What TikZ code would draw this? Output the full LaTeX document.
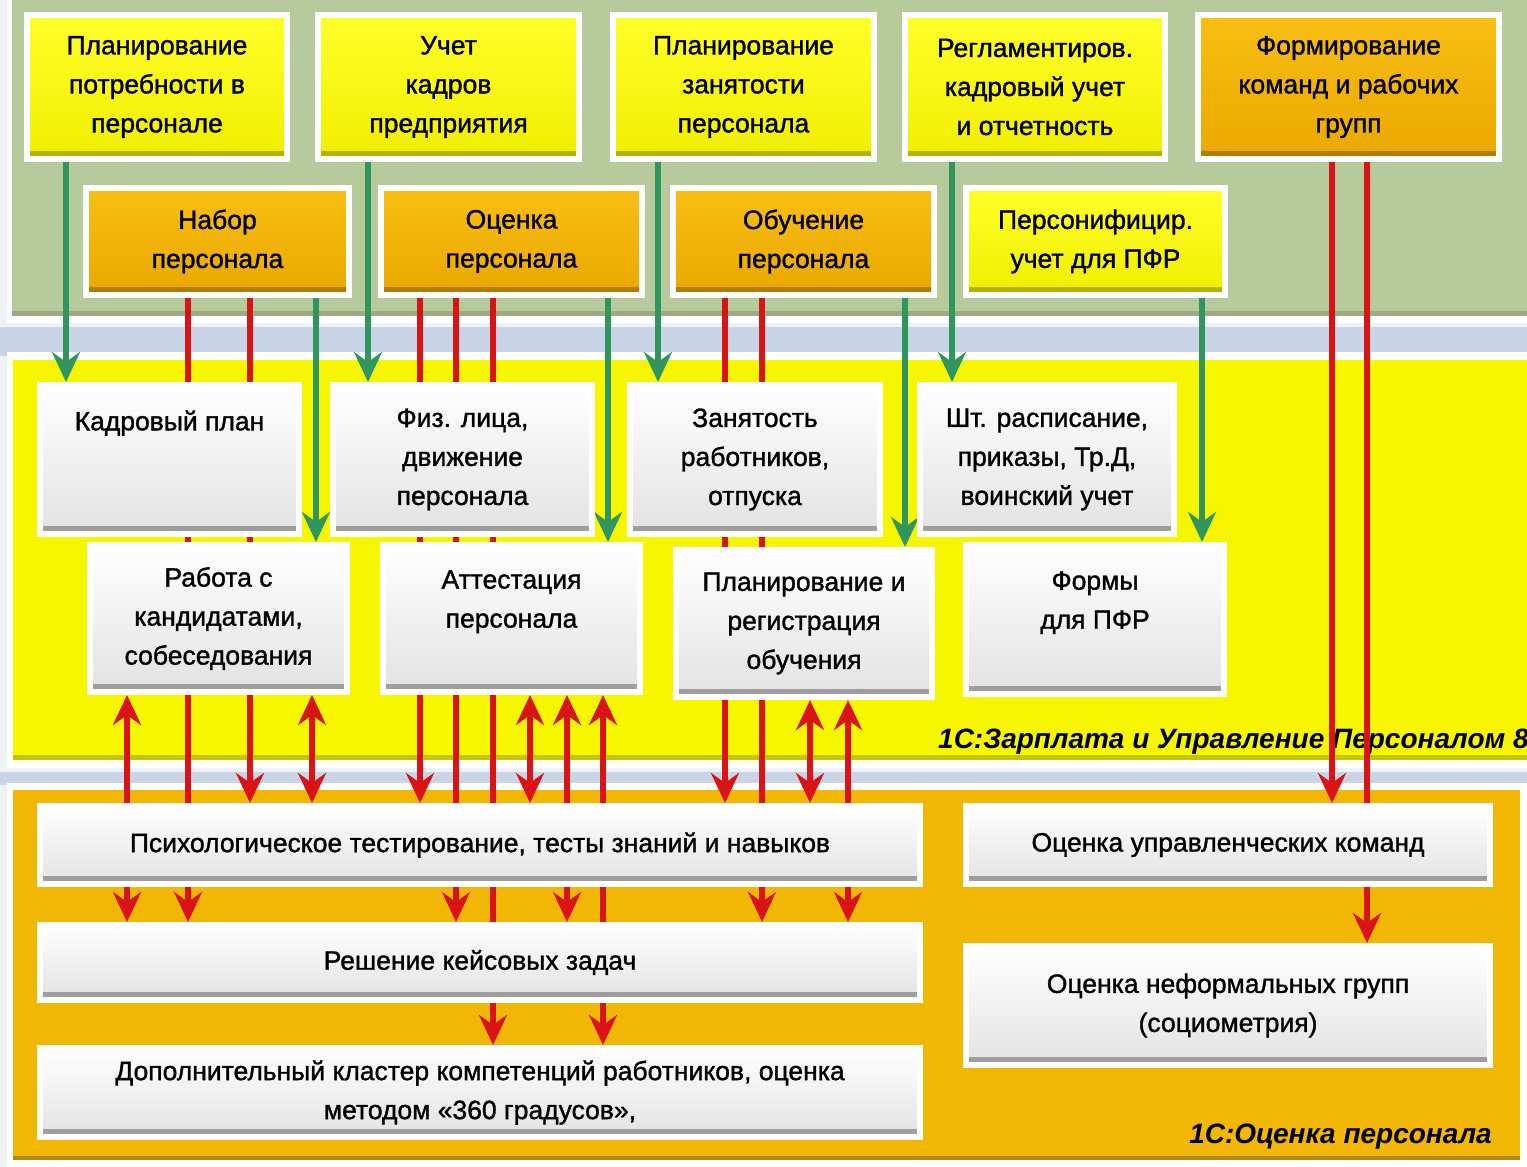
\documentclass[tikz,border=0pt]{standalone}
\usepackage{fontspec}
\setmainfont{Liberation Sans}
\newfontfamily\boxfont{Liberation Sans}[FakeBold=1.3]
\usetikzlibrary{arrows.meta,shadows}
\definecolor{bgc}{HTML}{EEF2F7}
\definecolor{bandc}{HTML}{C9D4E6}
\definecolor{greenp}{HTML}{B6CA9C}
\definecolor{yellowp}{HTML}{F6F600}
\definecolor{orangep}{HTML}{F2B705}
\definecolor{yboxt}{HTML}{FFFF2A}
\definecolor{yboxb}{HTML}{F0EE00}
\definecolor{oboxt}{HTML}{F8BE14}
\definecolor{oboxb}{HTML}{EAA800}
\definecolor{wboxb}{HTML}{E2E2E2}
\definecolor{garrow}{HTML}{30965E}
\definecolor{rarrow}{HTML}{DA1414}
\pgfdeclarelayer{bg}
\pgfdeclarelayer{conn}
\pgfsetlayers{bg,conn,main}
\newcommand\mkbox[7]{\node[#1, minimum width={(#4-#2)*1pt}, minimum height={(#5-#3)*1pt}] (#6) at ({(#2+#4)/2},{(#3+#5)/2}) {#7};}
\newcommand\cn[4]{\coordinate (c#2) at (#2,0); \draw[#1] (#3.south -| c#2) -- (#4.north -| c#2);}
\tikzset{
  box/.style={draw=white, line width=6pt, inner sep=0pt, align=center, text=black,
    font=\boxfont\fontsize{26.5}{39}\selectfont,
    drop shadow={shadow xshift=3pt, shadow yshift=-3pt, opacity=0.35, fill=black!60}},
  stripe/.style={path picture={\fill[#1] ([yshift=3pt]path picture bounding box.south west) rectangle ([yshift=8pt]path picture bounding box.south east);}},
  ybox/.style={box, top color=yboxt, bottom color=yboxb, stripe=yboxb!75!black},
  obox/.style={box, top color=oboxt, bottom color=oboxb, stripe=oboxb!75!black},
  wbox/.style={box, top color=white, bottom color=wboxb, stripe=black!38},
  tipg/.tip={Stealth[length=30pt,width=28pt,inset=10pt]},
  garr/.style={draw=garrow, line width=6pt, -tipg},
  rarr/.style={draw=rarrow, line width=6pt, -tipg},
  rdbl/.style={draw=rarrow, line width=6pt, tipg-tipg},
  lbl/.style={font=\fontsize{28}{32}\selectfont\bfseries\itshape, text=black, inner sep=0pt},
}
\begin{document}
\begin{tikzpicture}[x=1pt,y=-1pt]
\useasboundingbox (0,0) rectangle (1527,1167);
\begin{pgfonlayer}{bg}
  \fill[bgc] (0,0) rectangle (1527,1167);
  \fill[bandc] (0,327) rectangle (1527,356);
  \fill[bandc] (0,772) rectangle (1527,785);
  % top panel
  \fill[white] (7,-20) rectangle (1540,323);
  \fill[greenp] (12,-20) rectangle (1540,316);
  \fill[greenp!85!black] (12,311) rectangle (1540,316);
  % middle panel
  \fill[white] (7,352) rectangle (1540,768);
  \fill[yellowp] (13,360) rectangle (1540,760);
  \fill[yellowp!80!black] (13,755) rectangle (1540,760);
  % bottom panel
  \fill[white] (7,783) rectangle (1527,1167);
  \fill[orangep] (13,790) rectangle (1520,1160);
  \fill[orangep!75!black] (13,1156) rectangle (1520,1160);
  \node[lbl, anchor=west] (lab1) at (938,742) {1С:Зарплата и Управление Персоналом 8};
  \node[lbl, anchor=east] (lab2) at (1492,1137) {1С:Оценка персонала};
\end{pgfonlayer}

% top row
\mkbox{ybox}{27}{15}{287}{159}{T1}{Планирование\\потребности в\\персонале}
\mkbox{ybox}{318}{15}{579}{159}{T2}{Учет\\кадров\\предприятия}
\mkbox{ybox}{613}{15}{874}{159}{T3}{Планирование\\занятости\\персонала}
\mkbox{ybox}{905}{15}{1165}{159}{T4}{Регламентиров.\\кадровый учет\\и отчетность}
\mkbox{obox}{1198}{15}{1499}{159}{T5}{Формирование\\команд и рабочих\\групп}
% second row
\mkbox{obox}{86}{188}{349}{295}{S1}{Набор\\персонала}
\mkbox{obox}{381}{188}{642}{295}{S2}{Оценка\\персонала}
\mkbox{obox}{673}{188}{934}{295}{S3}{Обучение\\персонала}
\mkbox{ybox}{966}{188}{1225}{295}{S4}{Персонифицир.\\учет для ПФР}
% middle panel rows
\mkbox{wbox}{40}{385}{299}{534}{M1}{Кадровый план\\~\\~}
\mkbox{wbox}{333}{385}{592}{534}{M2}{Физ. лица,\\движение\\персонала}
\mkbox{wbox}{630}{385}{880}{534}{M3}{Занятость\\работников,\\отпуска}
\mkbox{wbox}{920}{385}{1174}{534}{M4}{Шт. расписание,\\приказы, Тр.Д,\\воинский учет}
\mkbox{wbox}{90}{545}{347}{692}{N1}{Работа с\\кандидатами,\\собеседования}
\mkbox{wbox}{383}{545}{640}{692}{N2}{Аттестация\\персонала\\~}
\mkbox{wbox}{676}{550}{932}{697}{N3}{Планирование и\\регистрация\\обучения}
\mkbox{wbox}{966}{545}{1224}{694}{N4}{Формы\\для ПФР\\~}
% bottom panel
\mkbox{wbox}{40}{806}{920}{884}{B1}{Психологическое тестирование, тесты знаний и навыков}
\mkbox{wbox}{40}{925}{920}{1000}{B2}{Решение кейсовых задач}
\mkbox{wbox}{40}{1048}{920}{1137}{B3}{Дополнительный кластер компетенций работников, оценка\\методом «360 градусов»,}
\mkbox{wbox}{966}{806}{1490}{884}{B4}{Оценка управленческих команд}
\mkbox{wbox}{966}{946}{1490}{1065}{B5}{Оценка неформальных групп\\(социометрия)}

\begin{pgfonlayer}{conn}
  % green
  \cn{garr}{66}{T1}{M1}
  \cn{garr}{316}{S1}{N1}
  \cn{garr}{368}{T2}{M2}
  \cn{garr}{608}{S2}{N2}
  \cn{garr}{658}{T3}{M3}
  \cn{garr}{905}{S3}{N3}
  \cn{garr}{952}{T4}{M4}
  \cn{garr}{1202}{S4}{N4}
  % red
  \cn{rarr}{188}{S1}{B2}
  \cn{rarr}{250}{S1}{B1}
  \cn{rdbl}{127}{N1}{B2}
  \cn{rdbl}{312}{N1}{B1}
  \cn{rarr}{420}{S2}{B1}
  \cn{rarr}{456}{S2}{B2}
  \cn{rarr}{493}{S2}{B3}
  \cn{rdbl}{530}{N2}{B1}
  \cn{rdbl}{567}{N2}{B2}
  \cn{rdbl}{603}{N2}{B3}
  \cn{rarr}{725}{S3}{B1}
  \cn{rarr}{762}{S3}{B2}
  \cn{rdbl}{810}{N3}{B1}
  \cn{rdbl}{848}{N3}{B2}
\end{pgfonlayer}
\cn{rarr}{1332}{T5}{B4}
\begin{pgfonlayer}{conn}
  \cn{rarr}{1367}{T5}{B5}
\end{pgfonlayer}
\end{tikzpicture}
\end{document}
